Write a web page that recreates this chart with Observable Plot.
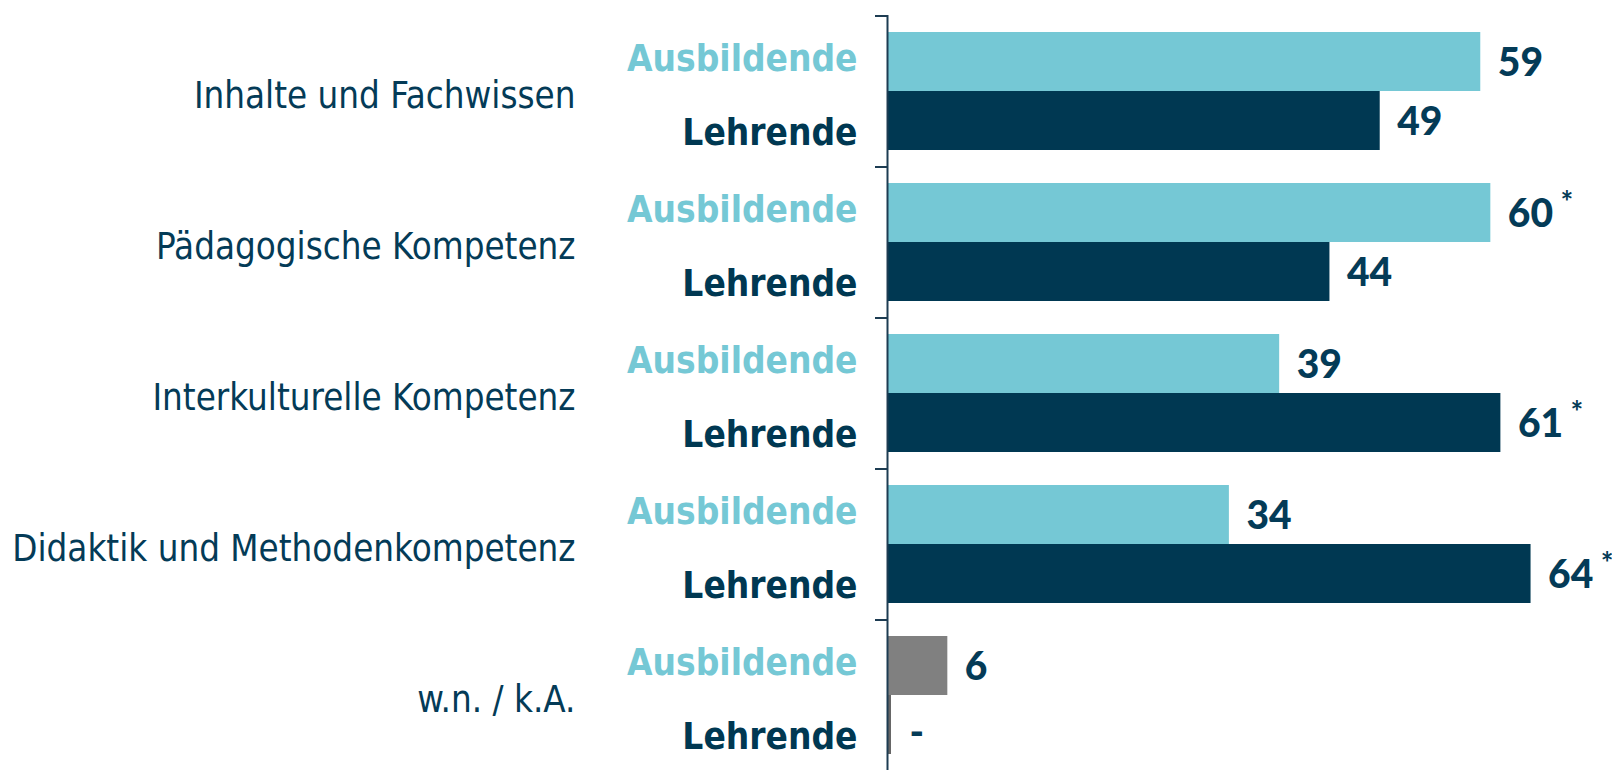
<!DOCTYPE html>
<html>
<head>
<meta charset="utf-8">
<script src="https://cdn.jsdelivr.net/npm/d3@7"></script>
<script src="https://cdn.jsdelivr.net/npm/@observablehq/plot@0.6"></script>
<style>
  html, body { margin: 0; padding: 0; background: #fff; }
  #chart svg { display: block; }
  .cond { font-stretch: condensed; }
</style>
</head>
<body>
<div id="chart"></div>
<script>
// ---- data ----
const categories = [
  "Inhalte und Fachwissen",
  "Pädagogische Kompetenz",
  "Interkulturelle Kompetenz",
  "Didaktik und Methodenkompetenz",
  "w.n. / k.A."
];
const groups = ["Ausbildende", "Lehrende"];
const ausbildende = [59, 60, 39, 34, 6];
const lehrende = [49, 44, 61, 64, null];
const ausbildendeStar = [false, true, false, false, false];
const lehrendeStar = [false, false, true, true, false];
const noAnswerCategory = "w.n. / k.A.";

// ---- styles ----
const teal = "#75C8D5";
const navy = "#003852";
const grey = "#808080";
const stubGrey = "#666666";
const axisColor = "#1D3C52";
const textNavy = "#043B57";
const condFont = "'DejaVu Sans Condensed', 'DejaVu Sans', sans-serif";
const numFont = "Lato, 'Open Sans', sans-serif";

const rows = categories.flatMap((c, i) => [
  {category: c, group: "Ausbildende", value: ausbildende[i], star: ausbildendeStar[i]},
  {category: c, group: "Lehrende", value: lehrende[i], star: lehrendeStar[i]}
]);

const fillFor = d => d.category === noAnswerCategory ? grey : (d.group === "Ausbildende" ? teal : navy);

const chart = Plot.plot({
  width: 1612,
  height: 771,
  marginLeft: 887,
  marginRight: 0,
  marginTop: 13,
  marginBottom: 0,
  style: {background: "#fff", overflow: "visible"},
  x: {domain: [0, 72.1], axis: null},
  fy: {domain: categories, padding: 0, axis: null},
  y: {domain: groups, paddingInner: 0, paddingOuter: 0.267, axis: null},
  marks: [
    Plot.barX(rows.filter(d => d.value != null), {
      x: "value", y: "group", fy: "category", fill: fillFor
    }),
    Plot.barX(rows.filter(d => d.value == null), {
      x1: 0, x2: 0, y: "group", fy: "category", fill: stubGrey, insetRight: -4
    }),
    // vertical axis line
    Plot.ruleX([0], {stroke: axisColor, strokeWidth: 2}),
    // group separator ticks
    Plot.ruleY(categories, {
      fy: d => d, y: () => "Ausbildende", x1: 0, x2: 0,
      insetLeft: -12, dy: -46, stroke: axisColor, strokeWidth: 2
    }),
    // category labels
    Plot.text(categories, {
      fy: d => d, text: d => d, frameAnchor: "left", textAnchor: "end",
      dx: -312, dy: 5, fontSize: 36.4, fontFamily: condFont, fill: textNavy,
      className: "cond"
    }),
    // group labels
    Plot.text(rows.filter(d => d.group === "Ausbildende"), {
      x: () => 0, y: "group", fy: "category", text: "group", textAnchor: "end",
      dx: -30, dy: -3, fontSize: 36.7, fontWeight: "bold", fontFamily: condFont, fill: teal,
      className: "cond"
    }),
    Plot.text(rows.filter(d => d.group === "Lehrende"), {
      x: () => 0, y: "group", fy: "category", text: "group", textAnchor: "end",
      dx: -30, dy: 12, fontSize: 36.7, fontWeight: "bold", fontFamily: condFont, fill: navy,
      className: "cond"
    }),
    // value labels
    Plot.text(rows.filter(d => d.value != null), {
      x: "value", y: "group", fy: "category",
      text: d => String(d.value),
      textAnchor: "start", dx: 17, dy: 2, fontSize: 39, fontWeight: 900,
      fontFamily: numFont, fill: textNavy
    }),
    // "no value" labels
    Plot.text(rows.filter(d => d.value == null), {
      x: () => 0, y: "group", fy: "category", text: () => "-",
      textAnchor: "start", dx: 22, dy: 9, fontSize: 39, fontWeight: 900,
      fontFamily: numFont, fill: textNavy
    }),
    // significance markers
    Plot.text(rows.filter(d => d.star), {
      x: "value", y: "group", fy: "category", text: () => "*",
      textAnchor: "middle", dx: 76, dy: -10, fontSize: 30, fontWeight: "bold",
      fontFamily: numFont, fill: textNavy
    })
  ]
});

document.getElementById("chart").appendChild(chart);
</script>
</body>
</html>
